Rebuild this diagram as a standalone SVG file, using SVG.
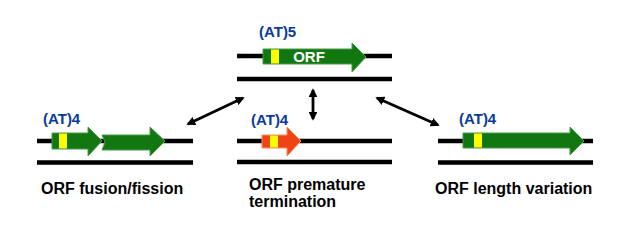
<svg xmlns="http://www.w3.org/2000/svg" width="640" height="241" viewBox="0 0 640 241">
<defs>
<marker id="ah" viewBox="0 0 10 10" refX="8" refY="5" markerWidth="3.2" markerHeight="3.2" orient="auto-start-reverse" markerUnits="strokeWidth">
<path d="M0,0 L10,5 L0,10 z" fill="#000"/>
</marker>
</defs>
<style>
.dna{stroke:#000;stroke-width:4.5;fill:none}
.g{fill:#117711;stroke:#4a9a4a;stroke-width:1}
.o{fill:#ee4411;stroke:#ff8a66;stroke-width:1}
.y{fill:#ffff00;stroke:none}
.at{font-family:"Liberation Sans",Arial,sans-serif;font-size:15px;font-weight:bold;fill:#0a3a9a}
.lab{font-family:"Liberation Sans",Arial,sans-serif;font-size:16px;font-weight:bold;fill:#000}
.orf{font-family:"Liberation Sans",Arial,sans-serif;font-size:15px;font-weight:bold;fill:#fff}
.con{stroke:#000;stroke-width:2.8;fill:none}
</style>
<g id="node-top">
<line class="dna" x1="237" y1="56" x2="392" y2="56"/>
<line class="dna" x1="237" y1="79" x2="392" y2="79"/>
<path class="g" d="M263,49 H352 V43 L366,57 L352,72 V64 H263 Z"/>
<rect class="y" x="271" y="49.5" width="8" height="14"/>
<text class="orf" x="309" y="62" text-anchor="middle">ORF</text>
<text class="at" x="259" y="37">(AT)5</text>
</g>
<g id="node-left">
<line class="dna" x1="37" y1="141" x2="193" y2="141"/>
<line class="dna" x1="37" y1="162.5" x2="193" y2="162.5"/>
<path class="g" d="M52,133 H88 V127 L102,141 L88,156 V149 H52 Z"/>
<rect class="y" x="59" y="133.5" width="8" height="15"/>
<path class="g" d="M102,135 H150 V127 L165,141 L150,156 V150 H102 L105,142 Z"/>
<text class="at" x="43" y="124">(AT)4</text>
<text class="lab" x="41" y="194">ORF fusion/fission</text>
</g>
<g id="node-middle">
<line class="dna" x1="237" y1="141" x2="392" y2="141"/>
<line class="dna" x1="237" y1="162" x2="392" y2="162"/>
<path class="o" d="M262,135 H287 V127 L301,141 L287,156 V148 H262 Z"/>
<rect class="y" x="270" y="135.5" width="8" height="12"/>
<text class="at" x="251" y="125">(AT)4</text>
<text class="lab" x="249" y="190">ORF premature</text>
<text class="lab" x="249" y="207">termination</text>
</g>
<g id="node-right">
<line class="dna" x1="438" y1="141" x2="593" y2="141"/>
<line class="dna" x1="438" y1="162.5" x2="593" y2="162.5"/>
<path class="g" d="M463,133 H570 V127 L584,141 L570,155 V148 H463 Z"/>
<rect class="y" x="474" y="133.5" width="8" height="14"/>
<text class="at" x="459" y="124">(AT)4</text>
<text class="lab" x="435" y="194">ORF length variation</text>
</g>
<g id="connectors">
<line class="con" x1="188" y1="124" x2="243" y2="98" marker-start="url(#ah)" marker-end="url(#ah)"/>
<line class="con" x1="313" y1="90" x2="313" y2="119" marker-start="url(#ah)" marker-end="url(#ah)"/>
<line class="con" x1="377" y1="98" x2="438" y2="125" marker-start="url(#ah)" marker-end="url(#ah)"/>
</g>
</svg>
